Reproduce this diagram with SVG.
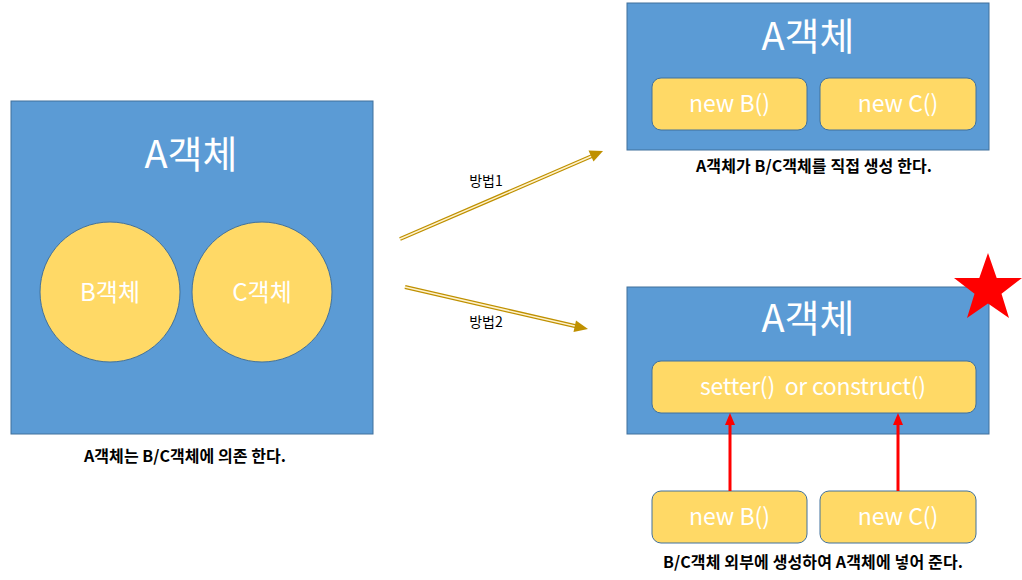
<svg xmlns="http://www.w3.org/2000/svg" width="1022" height="580" viewBox="0 0 1022 580">
<defs>
<style>
.box{fill:#5B9BD5;stroke:#41719C;stroke-width:1}
.pill{fill:#FFD966;stroke:#41719C;stroke-width:1}
.t{font-family:"Noto Sans CJK KR","Noto Sans",sans-serif;fill:#fff;text-anchor:middle}
.title{font-size:38px}
.lbl{font-size:23px}
.cap{font-family:"Noto Sans CJK KR","Noto Sans",sans-serif;font-size:16px;font-weight:bold;fill:#000;text-anchor:middle}
.small{font-family:"Noto Sans CJK KR","Noto Sans",sans-serif;font-size:14px;fill:#000;text-anchor:middle}
.gold-o{stroke:#BF9000;stroke-width:4;fill:none}
.gold-i{stroke:#FFF2CC;stroke-width:1.5;fill:none}
.red{stroke:#FF0000;stroke-width:3;fill:none}
</style>
</defs>
<rect width="1022" height="580" fill="#fff"/>

<g id="nodeLeft">
<rect class="box" x="11" y="101" width="362" height="333"/>
<text class="t title" x="191" y="168">A객체</text>
<circle class="pill" cx="110" cy="292" r="70"/>
<text class="t" x="110" y="301" font-size="24">B객체</text>
<circle class="pill" cx="262" cy="292" r="70"/>
<text class="t" x="262" y="301" font-size="24">C객체</text>
<text class="cap" x="185" y="462" textLength="202" lengthAdjust="spacing">A객체는 B/C객체에 의존 한다.</text>
</g>

<g id="nodeTop">
<rect class="box" x="627" y="3" width="362" height="147"/>
<text class="t title" x="808" y="50">A객체</text>
<rect class="pill" x="652" y="78" width="155" height="52" rx="9"/>
<text class="t lbl" x="729.5" y="112">new B()</text>
<rect class="pill" x="820" y="78" width="156" height="52" rx="9"/>
<text class="t lbl" x="898" y="112">new C()</text>
<text class="cap" x="814" y="172" textLength="236" lengthAdjust="spacing">A객체가 B/C객체를 직접 생성 한다.</text>
</g>

<g id="nodeBottom">
<rect class="box" x="627" y="287" width="362" height="147"/>
<text class="t title" x="808" y="332">A객체</text>
<rect class="pill" x="652" y="361" width="324" height="52" rx="9"/>
<text class="t lbl" x="813" y="395" textLength="226" lengthAdjust="spacing" xml:space="preserve">setter()  or construct()</text>
</g>

<g id="nodeNewB">
<rect class="pill" x="652" y="491" width="155" height="52" rx="9"/>
<text class="t lbl" x="729.5" y="525">new B()</text>
</g>
<g id="nodeNewC">
<rect class="pill" x="820" y="491" width="156" height="52" rx="9"/>
<text class="t lbl" x="898" y="525">new C()</text>
</g>
<text class="cap" x="813" y="568" textLength="300" lengthAdjust="spacing">B/C객체 외부에 생성하여 A객체에 넣어 준다.</text>

<g id="star">
<polygon points="988,253 996.7,278 1022,278 1001.5,293.7 1009,318 988,303.5 967,318 974.5,293.7 954,278 979.3,278" fill="#FF0000"/>
</g>

<g id="connectors">
<line class="gold-o" x1="400" y1="239" x2="592" y2="156"/>
<line class="gold-i" x1="400" y1="239" x2="592" y2="156"/>
<polygon points="603,151 588.5,150.5 593.5,161.5" fill="#BF9000"/>
<line class="gold-o" x1="405" y1="287" x2="577" y2="326.5"/>
<line class="gold-i" x1="405" y1="287" x2="577" y2="326.5"/>
<polygon points="588,329 576,320.5 573.5,332" fill="#BF9000"/>
<text class="small" x="486" y="186">방법1</text>
<text class="small" x="486" y="327">방법2</text>
<line class="red" x1="730" y1="491" x2="730" y2="424"/>
<polygon points="730,413 725,425 735,425" fill="#FF0000"/>
<line class="red" x1="898" y1="491" x2="898" y2="424"/>
<polygon points="898,413 893,425 903,425" fill="#FF0000"/>
</g>
</svg>
